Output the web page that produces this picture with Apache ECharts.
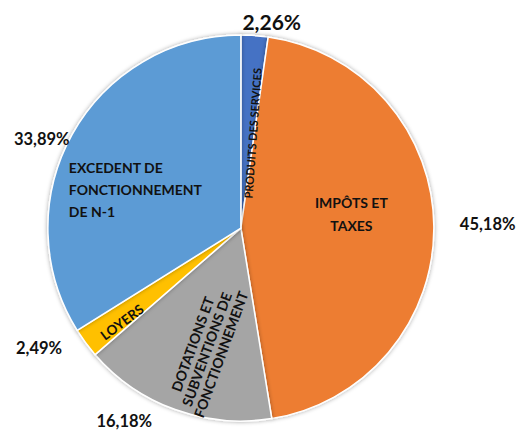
<!DOCTYPE html>
<html>
<head>
<meta charset="utf-8">
<style>
  html, body { margin: 0; padding: 0; background: #fff; }
  #chart { width: 518px; height: 432px; }
</style>
<script src="https://cdn.jsdelivr.net/npm/echarts@6/dist/echarts.min.js"></script>
</head>
<body>
<div id="chart"></div>
<script>
var categories = ['PRODUITS DES SERVICES', 'IMPÔTS ET TAXES', 'DOTATIONS ET SUBVENTIONS DE FONCTIONNEMENT', 'LOYERS', 'EXCEDENT DE FONCTIONNEMENT DE N-1'];
var sliceLabels = ['PRODUITS DES SERVICES', 'IMPÔTS ET\nTAXES', 'DOTATIONS ET\nSUBVENTIONS DE\nFONCTIONNEMENT', 'LOYERS', 'EXCEDENT DE\nFONCTIONNEMENT\nDE N-1'];
var shares = [2.26, 45.18, 16.18, 2.49, 33.89];
var colors = ['#4472C4', '#ED7D31', '#A5A5A5', '#FFC000', '#5B9BD5'];

(function() {
  var font = 'Lato, "Open Sans", sans-serif';
  var center = ['46.5%', '52.8%'];
  var radius = 193;

  // inner label tweaks per slice (rotated labels shift in their own frame)
  var innerRotate = ['radial', 0, 'radial', 'radial', 0];
  var innerSize = [11, 14, 14, 13.5, 14];
  var innerLine = [14, 23, 15, 16, 22];
  var innerShift = [[-4, 5], [11, -13], [-26, 9], [-52, 5], [-16, 10]];
  // outer label tweaks per slice
  var outerShift = [[-24, -2], [3, -2], [-8, 0], [-3, -2], [19, 10]];

  var innerData = shares.map(function(v, i) {
    return {
      name: categories[i],
      value: v,
      itemStyle: { color: colors[i] },
      label: { rotate: innerRotate[i], fontSize: innerSize[i], lineHeight: innerLine[i] }
    };
  });
  var outerData = shares.map(function(v, i) {
    return {
      name: categories[i],
      value: v,
      label: i === 0 ? { fontSize: 21, fontWeight: 'bold' } : {}
    };
  });

  var chart = echarts.init(document.getElementById('chart'), null, { renderer: 'svg' });
  chart.setOption({
    animation: false,
    series: [
      {
        type: 'pie',
        center: center,
        radius: radius,
        startAngle: 90,
        data: innerData,
        itemStyle: {
          borderColor: '#ffffff',
          borderWidth: 1.5,
          shadowBlur: 4,
          shadowColor: 'rgba(0,0,0,0.35)'
        },
        label: {
          position: 'inside',
          color: '#111',
          fontFamily: font,
          fontSize: 13,
          fontWeight: 'bold',
          lineHeight: 23,
          formatter: function(p) {
            if (p.dataIndex === 4) {
              return sliceLabels[4].split('\n').map(function(s) { return '{l|' + s + '}'; }).join('\n');
            }
            return sliceLabels[p.dataIndex];
          },
          rich: {
            l: { width: 138, align: 'left', fontSize: 14, fontWeight: 'bold', color: '#111', lineHeight: 22, fontFamily: font }
          }
        },
        labelLayout: function(p) {
          var s = innerShift[p.dataIndex];
          return { dx: s[0], dy: s[1] };
        },
        labelLine: { show: false }
      },
      {
        type: 'pie',
        center: center,
        radius: radius,
        startAngle: 90,
        silent: true,
        data: outerData,
        itemStyle: { color: 'rgba(0,0,0,0)', borderWidth: 0 },
        label: {
          position: 'outside',
          color: '#111',
          fontFamily: font,
          fontSize: 16.5,
          fontWeight: 'bold',
          overflow: 'none',
          formatter: function(p) {
            return p.value.toFixed(2).replace('.', ',') + '%';
          }
        },
        labelLayout: function(p) {
          var s = outerShift[p.dataIndex];
          return { dx: s[0], dy: s[1] };
        },
        labelLine: { show: false, length: 12, length2: 6 }
      }
    ]
  });
  window.addEventListener('resize', function() { chart.resize(); });
})();
</script>
</body>
</html>
